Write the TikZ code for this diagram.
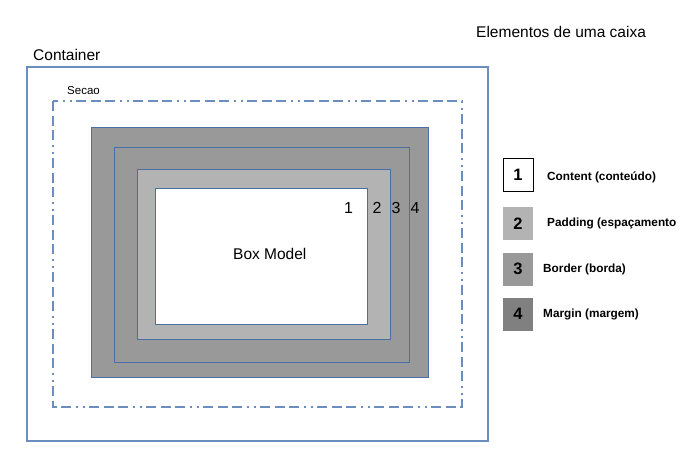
\documentclass[tikz,border=0pt]{standalone}
\usepackage{fontspec}
\setmainfont{Liberation Sans}
\definecolor{azul}{HTML}{6C8EBF}
\definecolor{azulesc}{HTML}{4A6FA5}
\definecolor{cinzaA}{HTML}{B3B3B3}
\definecolor{cinzaB}{HTML}{999999}
\definecolor{cinzaC}{HTML}{808080}

\begin{document}
\begin{tikzpicture}[x=1pt, y=-1pt]
\tikzset{texto/.style={inner sep=0pt, anchor=base west, font=\fontsize{15.5}{18}\selectfont},
         legtexto/.style={inner sep=0pt, anchor=base west, font=\bfseries\fontsize{11.8}{14}\selectfont},
         legcaixa/.style={minimum width=30pt, minimum height=33pt, inner sep=0pt, font=\bfseries\fontsize{16.5}{20}\selectfont},
         caixa/.style={draw=azulesc, line width=0.9pt}}
\useasboundingbox (0,0) rectangle (693,461);
% caixas aninhadas
\draw[draw=azul, line width=1.4pt] (27,67) rectangle (488,441);
\draw[draw=azul, line width=1.4pt, dash pattern=on 10pt off 4.5pt on 10pt off 4.5pt on 10pt off 4.5pt on 2pt off 5pt on 2pt off 4.5pt] (53,101) rectangle (462,407);
\draw[caixa, fill=cinzaB] (91,127) rectangle (428,377);
\draw[caixa, fill=cinzaB] (114,147) rectangle (409,362);
\draw[caixa, fill=cinzaA] (137,169) rectangle (390,339);
\draw[caixa, fill=white] (155,188) rectangle (367,324);
\node[texto] (Tcont) at (33,60) {Container};
\node[texto, font=\fontsize{11.5}{14}\selectfont] (Tsec) at (67,94) {Secao};
\node[texto] (Tbox) at (233,259) {Box Model};
\node[texto, font=\fontsize{16}{18}\selectfont] (N1) at (344,213) {1};
\node[texto, font=\fontsize{16}{18}\selectfont] (N2) at (372.5,213) {2};
\node[texto, font=\fontsize{16}{18}\selectfont] (N3) at (391.5,213) {3};
\node[texto, font=\fontsize{16}{18}\selectfont] (N4) at (410.5,213) {4};
\node[texto] (Ttit) at (476,37) {Elementos de uma caixa};
% legenda
\node[legcaixa, draw=black, line width=0.9pt, fill=white] (L1) at (518,174.5) {1};
\node[legcaixa, fill=cinzaA] (L2) at (518,223.5) {2};
\node[legcaixa, fill=cinzaB] (L3) at (518,269) {3};
\node[legcaixa, fill=cinzaC] (L4) at (518,314) {4};
\node[legtexto] (T1) at (547,180.5) {Content (conteúdo)};
\node[legtexto] (T2) at (547,226) {Padding (espaçamento};
\node[legtexto] (T3) at (543,272.5) {Border (borda)};
\node[legtexto] (T4) at (543,317.5) {Margin (margem)};
\end{tikzpicture}
\end{document}
